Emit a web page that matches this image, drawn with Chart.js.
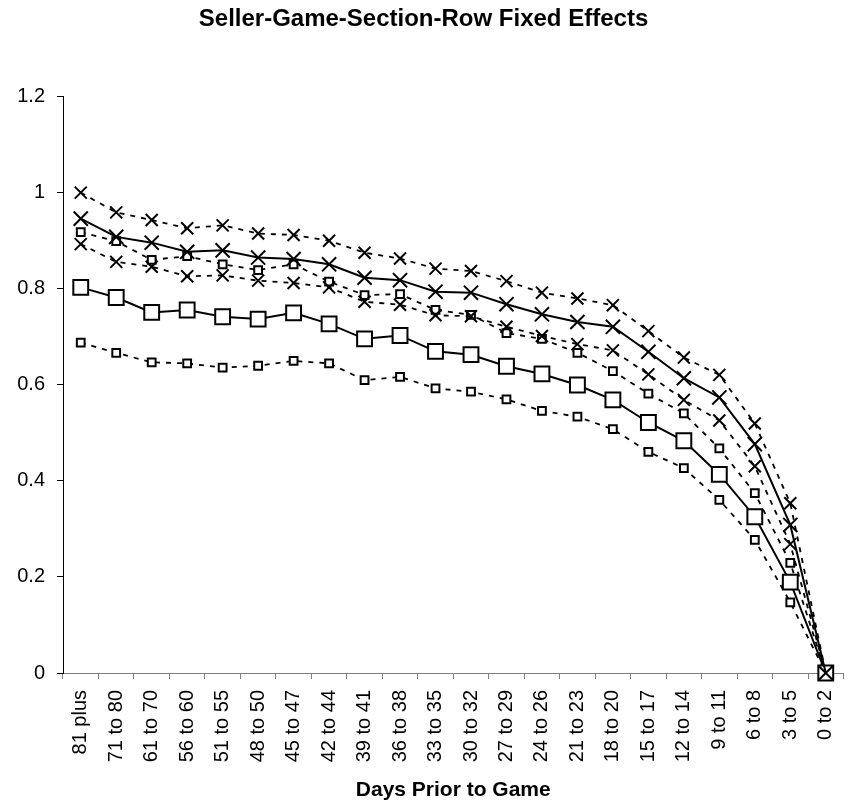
<!DOCTYPE html>
<html>
<head>
<meta charset="utf-8">
<script src="https://cdn.jsdelivr.net/npm/chart.js@4.4.1/dist/chart.umd.min.js"></script>
<style>
  html, body { margin: 0; padding: 0; background: #ffffff; }
  #wrap { width: 856px; height: 805px; }
</style>
</head>
<body>
<div id="wrap"><canvas id="chart" width="856" height="805"></canvas></div>
<script>
// Days-before-game buckets
const categories = ["81 plus", "71 to 80", "61 to 70", "56 to 60", "51 to 55", "48 to 50",
  "45 to 47", "42 to 44", "39 to 41", "36 to 38", "33 to 35", "30 to 32", "27 to 29",
  "24 to 26", "21 to 23", "18 to 20", "15 to 17", "12 to 14", "9 to 11", "6 to 8",
  "3 to 5", "0 to 2"];

// Cross-marked estimate with its upper and lower bands
const crossEstimate = [0.945, 0.907, 0.895, 0.876, 0.879, 0.864, 0.861, 0.850, 0.822, 0.817,
  0.793, 0.791, 0.767, 0.746, 0.730, 0.720, 0.668, 0.613, 0.573, 0.476, 0.308, 0];
const crossUpper = [0.999, 0.958, 0.942, 0.925, 0.931, 0.914, 0.911, 0.899, 0.874, 0.862,
  0.841, 0.836, 0.815, 0.791, 0.779, 0.765, 0.711, 0.656, 0.620, 0.519, 0.353, 0];
const crossLower = [0.892, 0.855, 0.845, 0.825, 0.827, 0.816, 0.811, 0.802, 0.772, 0.766,
  0.744, 0.742, 0.720, 0.701, 0.684, 0.671, 0.621, 0.568, 0.525, 0.430, 0.268, 0];

// Square-marked estimate with its upper and lower bands
const squareEstimate = [0.802, 0.781, 0.750, 0.755, 0.741, 0.736, 0.749, 0.726, 0.695, 0.702,
  0.669, 0.662, 0.638, 0.622, 0.599, 0.568, 0.521, 0.483, 0.413, 0.325, 0.189, 0];
const squareUpper = [0.917, 0.898, 0.859, 0.867, 0.850, 0.838, 0.850, 0.814, 0.786, 0.788,
  0.755, 0.745, 0.707, 0.695, 0.666, 0.628, 0.581, 0.540, 0.467, 0.374, 0.229, 0];
const squareLower = [0.687, 0.666, 0.646, 0.644, 0.635, 0.639, 0.649, 0.644, 0.609, 0.616,
  0.592, 0.585, 0.569, 0.545, 0.533, 0.507, 0.460, 0.426, 0.360, 0.277, 0.147, 0];

const yTicks = [0, 0.2, 0.4, 0.6, 0.8, 1, 1.2];

const FONT = "'Liberation Sans', Arial, Helvetica, sans-serif";

function series(data, style, radius, dashed, width) {
  return {
    data: data,
    borderColor: '#000000',
    backgroundColor: '#ffffff',
    borderWidth: width,
    borderDash: dashed ? [5, 6] : [],
    pointStyle: style,
    pointRadius: radius,
    pointHoverRadius: radius,
    pointBorderColor: '#000000',
    pointBackgroundColor: '#ffffff',
    pointBorderWidth: 2,
    tension: 0,
    fill: false,
    clip: false
  };
}

new Chart(document.getElementById('chart'), {
  type: 'line',
  data: {
    labels: categories,
    datasets: [
      series(crossEstimate, 'crossRot', 10, false, 2),
      series(squareEstimate, 'rect', 10.5, false, 2),
      series(crossUpper, 'crossRot', 8.5, true, 1.8),
      series(crossLower, 'crossRot', 8.5, true, 1.8),
      series(squareUpper, 'rect', 5.5, true, 1.8),
      series(squareLower, 'rect', 5.5, true, 1.8)
    ]
  },
  options: {
    responsive: false,
    animation: false,
    layout: { padding: { left: 0, right: 9, top: 0, bottom: 0 } },
    plugins: {
      legend: { display: false },
      tooltip: { enabled: false },
      title: {
        display: true,
        text: 'Seller-Game-Section-Row Fixed Effects',
        color: '#000000',
        font: { family: FONT, size: 24, weight: 'bold' },
        padding: { top: 5, bottom: 62.2 }
      }
    },
    scales: {
      x: {
        type: 'category',
        offset: true,
        grid: {
          offset: true,
          display: true,
          drawOnChartArea: false,
          drawTicks: true,
          tickLength: 6,
          color: '#808080'
        },
        border: { display: true, color: '#808080', width: 1 },
        ticks: {
          autoSkip: false,
          minRotation: 90,
          maxRotation: 90,
          padding: 11,
          color: '#000000',
          font: { family: FONT, size: 20 }
        },
        title: {
          display: true,
          text: 'Days Prior to Game',
          color: '#000000',
          font: { family: FONT, size: 21, weight: 'bold' },
          padding: { top: 0, bottom: 2.4 }
        },
        afterFit: (scale) => {
          scale.height = 132;
          scale.paddingLeft = 0;
          scale.paddingRight = 0;
        }
      },
      y: {
        min: 0,
        max: 1.2,
        afterBuildTicks: (scale) => { scale.ticks = yTicks.map(v => ({ value: v })); },
        grid: {
          display: true,
          drawOnChartArea: false,
          drawTicks: true,
          tickLength: 6,
          color: '#000000'
        },
        border: { display: true, color: '#000000', width: 1 },
        ticks: {
          padding: 12,
          color: '#000000',
          font: { family: FONT, size: 20 },
          callback: (v) => String(Math.round(v * 10) / 10)
        },
        afterFit: (scale) => { scale.width = 63; }
      }
    }
  }
});
</script>
</body>
</html>
